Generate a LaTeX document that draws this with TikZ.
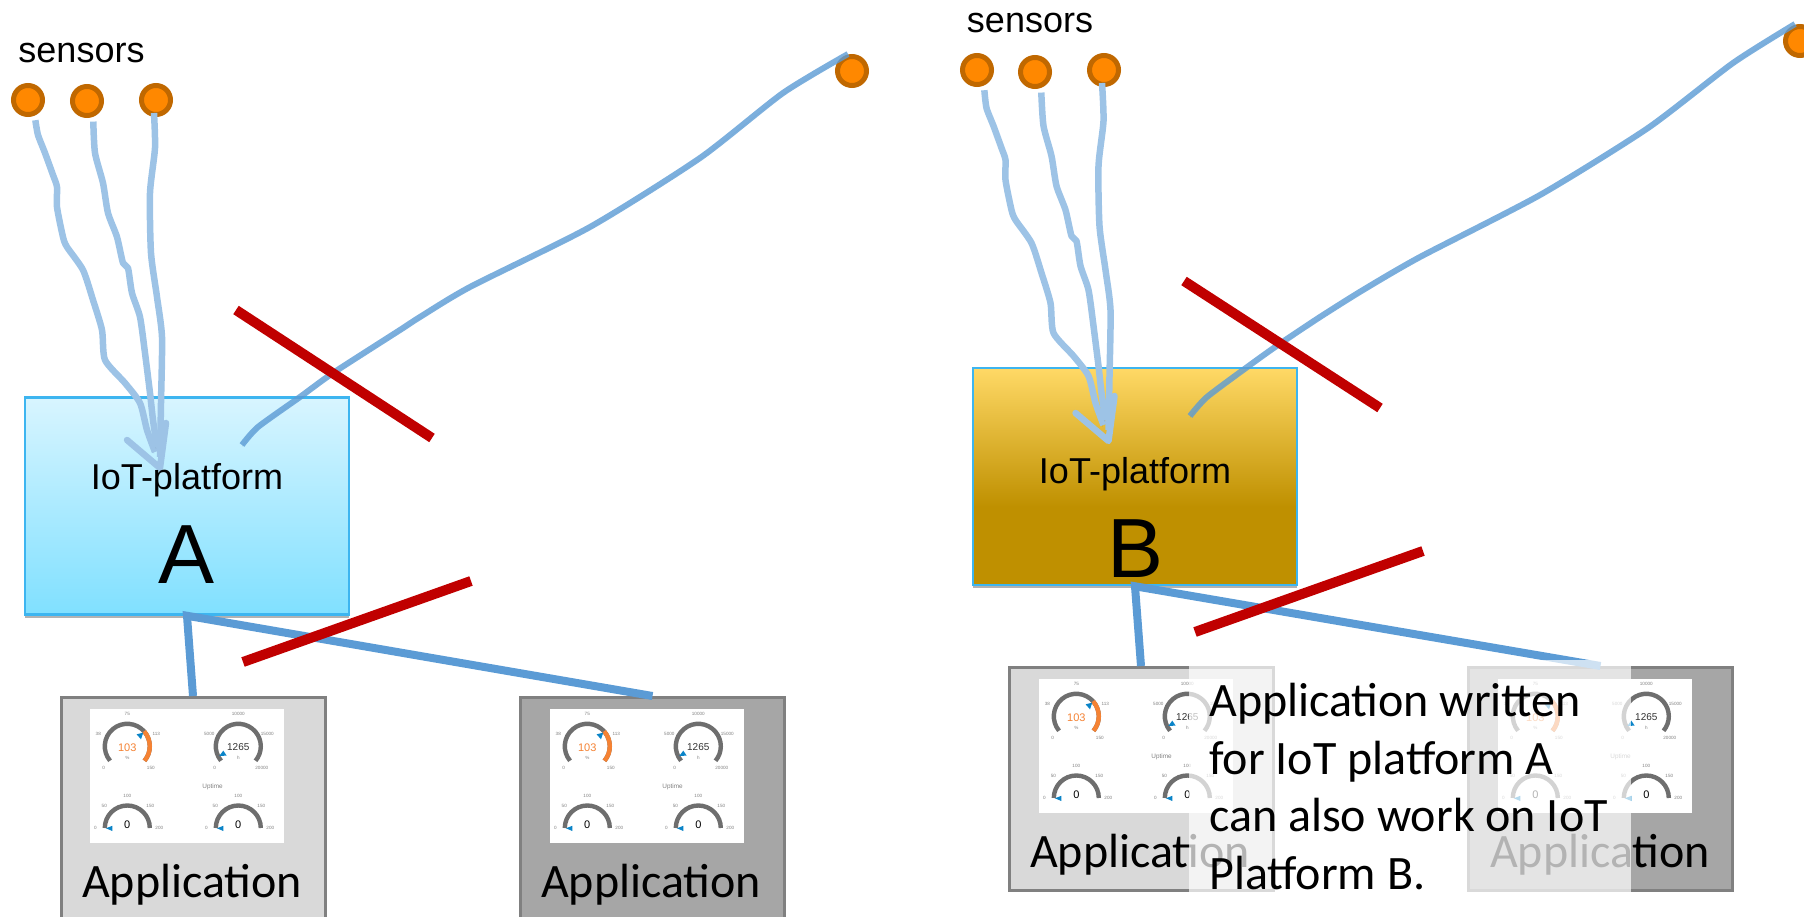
\documentclass[tikz,border=0pt]{standalone}
\usepackage{fontspec}
\setmainfont{Carlito}
\newfontfamily\arialfont{Liberation Sans}
\usetikzlibrary{shadows}
\definecolor{linkblue}{HTML}{5B9BD5}
\definecolor{sketchblue}{HTML}{9DC3E6}
\definecolor{crossred}{HTML}{C00000}
\definecolor{sensorfill}{HTML}{FF8800}
\definecolor{sensorrim}{HTML}{C06800}
\definecolor{boxrim}{HTML}{3DB5F0}
\definecolor{icelow}{HTML}{80E0FF}
\definecolor{icehigh}{HTML}{D8F5FF}
\definecolor{goldlow}{HTML}{BF9000}
\definecolor{goldhigh}{HTML}{FFD966}
\definecolor{dialgrey}{HTML}{6E6E6E}
\definecolor{dialorange}{HTML}{F58233}
\definecolor{dialblue}{HTML}{0A84C8}
\pgfdeclareverticalshading{icefade}{100bp}{color(0bp)=(icelow); color(25bp)=(icelow); color(75bp)=(icehigh); color(100bp)=(icehigh)}
\pgfdeclareverticalshading{goldfade}{100bp}{color(0bp)=(goldlow); color(43bp)=(goldlow); color(75bp)=(goldhigh); color(100bp)=(goldhigh)}
\tikzset{
  sensor/.style={circle, draw=sensorrim, fill=sensorfill, line width=5pt, minimum size=29pt, inner sep=0pt, outer sep=7pt},
  platformbox/.style={rectangle, draw=boxrim, line width=2.5pt, minimum width=324pt, minimum height=217pt, drop shadow={shadow xshift=0pt, shadow yshift=-3pt, opacity=.3, fill=black}},
  appbox/.style={rectangle, draw=black!50, line width=3pt, minimum width=264pt, anchor=north},
  sketch/.style={draw=sketchblue, line width=6.5pt, line join=round, preaction={draw=black, draw opacity=.12, transform canvas={shift={(-1pt,-1.5pt)}}}},
  farsketch/.style={draw=linkblue, draw opacity=.8, line width=6pt, line join=round, preaction={draw=black, draw opacity=.12, transform canvas={shift={(0pt,-1.5pt)}}}},
  link/.style={draw=linkblue, line width=8pt},
  cross/.style={draw=crossred, line width=10pt},
  sans/.style={font=\arialfont\fontsize{36}{40}\selectfont, anchor=base, inner sep=0pt},
  bigletter/.style={font=\arialfont\fontsize{84}{90}\selectfont, anchor=base, inner sep=0pt},
  apptext/.style={font=\fontsize{48}{56}\selectfont, anchor=base, inner sep=0pt},
  dial/.style={draw=dialgrey, line width=4.4pt},
  dialtick/.style={font=\arialfont\fontsize{4.6}{5}\selectfont, text=black!50, inner sep=0pt},
  dialvalue/.style={font=\arialfont\fontsize{11}{12}\selectfont, inner sep=0pt},
  dialmark/.style={fill=dialblue},
}
% name, centre, top, left, right, low right, unit, value, value colour
\newcommand{\gaugefull}[9]{
  \begin{scope}[shift={(#2)}]
    \draw[dial] (0,0) ++(220:22.5pt) arc[start angle=220, end angle=-40, radius=22.5pt];
    \node[dialtick] (#1a) at (0,-32) {#3};
    \node[dialtick] (#1b) at (-29,-12.3) {#4};
    \node[dialtick] (#1c) at (29,-12.3) {#5};
    \node[dialtick] (#1d) at (-23.7,21.7) {0};
    \node[dialtick] (#1e) at (23.5,21.7) {#6};
    \node[dialtick] (#1f) at (0,11.7) {#7};
    \node[dialvalue, text=#9] (#1g) at (0,1) {#8};
  \end{scope}
}
% name, centre
\newcommand{\gaugehalf}[2]{
  \begin{scope}[shift={(#2)}]
    \draw[dial] (0,0) ++(180:22.5pt) arc[start angle=180, end angle=0, radius=22.5pt];
    \fill[dialmark] (-21.3,.3) -- (-15,-2.2) -- (-15,3) -- cycle;
    \node[dialtick] (#1a) at (0,-31.7) {100};
    \node[dialtick] (#1b) at (-23,-22.3) {50};
    \node[dialtick] (#1c) at (23,-22.3) {150};
    \node[dialtick] (#1d) at (-32,.3) {0};
    \node[dialtick] (#1e) at (32,.3) {200};
    \node[dialvalue] (#1f) at (0,-3) {0};
  \end{scope}
}
\tikzset{
  dashpanel/.pic={
    \fill[white] (0,0) rectangle (194,134);
    \gaugefull{g}{37.3,37.3}{75}{38}{113}{150}{\%}{103}{dialorange}
    \draw[dial, draw=dialorange] (37.3,37.3) ++(42:22.5pt) arc[start angle=42, end angle=-40, radius=22.5pt];
    \fill[dialmark] (46.6,25.3) -- (53.3,23.6) -- (51,30.3) -- cycle;
    \gaugefull{h}{148.3,37.3}{10000}{5000}{15000}{20000}{h}{\fontsize{10}{12}\selectfont 1265}{black!80}
    \fill[dialmark] (133.3,41.6) -- (136.6,46.6) -- (129.3,47) -- cycle;
    \node[dialtick, font=\arialfont\fontsize{6.4}{7}\selectfont] (uptime) at (122.6,78) {Uptime};
    \gaugehalf{k}{37.3,119}
    \gaugehalf{m}{148.3,119}
  }
}
% tag, shift
\newcommand{\sensorfeeds}[2]{
  \begin{scope}[shift={(#2)}]
    \coordinate (tip#1) at (160,468);
    \draw[sketch] plot[smooth, tension=.4] coordinates {(s#11.-70) (38,135) (45,153) (53,175) (57,187) (57,207) (63,237) (67,247) (83,270) (93,300) (102,330) (105,360) (125,383) (140,403) (147,430) (155,452)};
    \draw[sketch] plot[smooth, tension=.4] coordinates {(s#12.-73) (95,153) (103,183) (108,213) (117,237) (123,263) (128,268) (132,293) (140,317) (145,353) (150,393) (153,420) (157,447)};
    \draw[sketch] plot[smooth, tension=.4] coordinates {([shift={(-2,13)}]s#13.center) (155,148) (150,193) (151,253) (157,297) (162,337) (161,403) (160,457)};
    \draw[sketch, line cap=round] (127,440) -- (tip#1) -- (166,423);
  \end{scope}
}

\begin{document}
\begin{tikzpicture}[x=1pt, y=-1pt]
  \useasboundingbox (0,0) rectangle (1804,917);

  % Platform A side
  \node[platformbox, shading=icefade] (boxA) at (187,506) {};
  \node[appbox, fill=black!15, minimum height=240pt] (appA1) at (193,696) {};
  \node[appbox, fill=black!35, minimum height=240pt] (appA2) at (652.5,696) {};
  \pic (panelA1) at (90,709) {dashpanel};
  \pic (panelA2) at (550,709) {dashpanel};
  \node[apptext] (textA1) at (192,897) {Application};
  \node[apptext] (textA2) at (651,897) {Application};
  \node[sans] (sensorsA) at (81.5,63) {sensors};
  \node[sensor] (sA1) at (28,100) {};
  \node[sensor] (sA2) at (87,101) {};
  \node[sensor] (sA3) at (156,100) {};
  \node[sensor] (sA4) at (852,71) {};
  \sensorfeeds{A}{0,0}
  \coordinate (endA) at (242,445);
  \draw[farsketch] plot[smooth, tension=.4] coordinates {([shift={(-4,-17)}]sA4.center) (783,93) (700,158) (590,227) (470,287) (420,317) (400,330) (333,373) (300,397) (258,427) (endA)};
  \node[sans] (iotA) at (187,489) {IoT-platform};
  \node[bigletter] (letterA) at (187,583) {A};
  \draw[link] (appA1.north) -- (boxA.south) -- (appA2.north);
  \coordinate (crossA1a) at (236,310);
  \coordinate (crossA1b) at (432,438);
  \coordinate (crossA2a) at (243,662);
  \coordinate (crossA2b) at (471,581);
  \draw[cross] (crossA1a) -- (crossA1b);
  \draw[cross] (crossA2a) -- (crossA2b);

  % Platform B side
  \node[platformbox, shading=goldfade] (boxB) at (1135,476.5) {};
  \node[appbox, fill=black!15, minimum height=223pt] (appB1) at (1141,666) {};
  \node[appbox, fill=black!35, minimum height=223pt] (appB2) at (1600.5,666) {};
  \pic (panelB1) at (1039,679) {dashpanel};
  \pic (panelB2) at (1498,679) {dashpanel};
  \node[apptext] (textB1) at (1140,867) {Application};
  \node[apptext] (textB2) at (1600,867) {Application};
  \node[sans] (sensorsB) at (1030,33) {sensors};
  \node[sensor] (sB1) at (977,70) {};
  \node[sensor] (sB2) at (1035,72) {};
  \node[sensor] (sB3) at (1104,70) {};
  \node[sensor] (sB4) at (1800,41) {};
  \sensorfeeds{B}{948.5,-27}
  \coordinate (endB) at (1190,416);
  \draw[farsketch] plot[smooth, tension=.4] coordinates {([shift={(-5,-17)}]sB4.center) (1733,63) (1648,128) (1540,195) (1420,257) (1363,290) (1320,317) (1278,345) (1250,365) (1207,397) (endB)};
  \node[sans] (iotB) at (1135,483) {IoT-platform};
  \node[bigletter] (letterB) at (1135,577) {B};
  \draw[link] (appB1.north) -- (boxB.south) -- (appB2.north);
  \coordinate (crossB1a) at (1184,281);
  \coordinate (crossB1b) at (1380,408);
  \coordinate (crossB2a) at (1195,632);
  \coordinate (crossB2b) at (1423,551);
  \draw[cross] (crossB1a) -- (crossB1b);
  \draw[cross] (crossB2a) -- (crossB2b);

  % Note over both applications
  \fill[white, opacity=.7] (1189,660) rectangle (1631,892);
  \node[anchor=north west, align=left, inner sep=0pt, font=\fontsize{48}{57.5}\selectfont] (note) at (1209,683) {Application written\\for IoT platform A\\can also work on IoT\\Platform B.};
\end{tikzpicture}
\end{document}
